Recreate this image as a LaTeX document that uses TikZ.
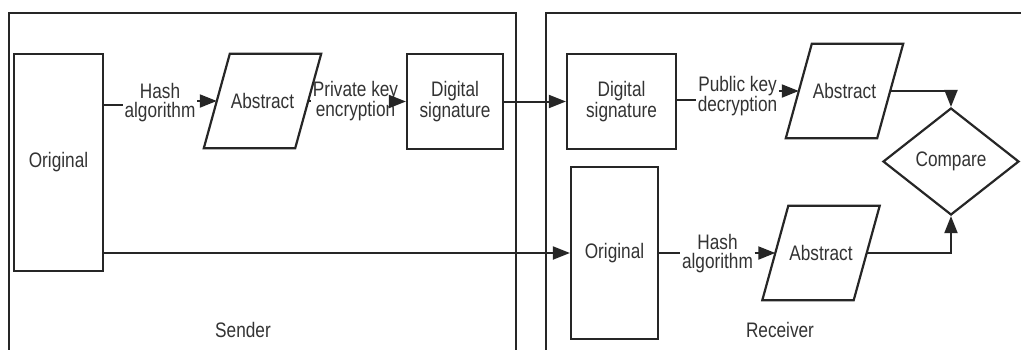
\documentclass[tikz,border=0pt]{standalone}
\usepackage{fontspec}
\setmainfont{Liberation Sans}[FakeStretch=0.82]
\usetikzlibrary{arrows.meta,shapes.geometric}
\definecolor{linec}{HTML}{262626}
\definecolor{textc}{HTML}{333333}
\tikzset{
  every node/.style={text=textc, font=\fontsize{21}{19}\selectfont, align=center},
  box/.style={draw=linec, line width=2.2pt, rectangle, inner sep=0pt},
  % parallelogram: the node is its mid-width rectangle, the slanted outline is drawn around it
  para/.style={rectangle, inner sep=0pt, minimum width=91pt, minimum height=94pt},
  paraline/.style={draw=linec, line width=2.2pt, line join=miter},
  decide/.style={draw=linec, line width=2.2pt, diamond, inner sep=0pt},
  lbl/.style={inner sep=1.5pt},
  link/.style={draw=linec, line width=2pt},
  arr/.style={link, -{Triangle[length=17pt,width=13pt]}},
  frame/.style={draw=linec, line width=2.4pt},
}
\begin{document}
\begin{tikzpicture}[x=1pt,y=-1pt]
\useasboundingbox (0,0) rectangle (1021,349);
\clip (0,0) rectangle (1021,349);
\fill[white] (0,0) rectangle (1021,349);

% sender and receiver frames (open towards the bottom and right)
\draw[frame] (9,370) |- (516,13) -- (516,370);
\draw[frame] (546,370) |- (1040,13);
\node (sender) at (243,330) {Sender};
\node (receiver) at (780,330) {Receiver};

% sender side
\node[box, minimum width=89pt, minimum height=217pt] (origS) at (58.5,162.5) {Original};
\node[para] (absS) at (262.5,101) {Abstract};
\node[box, minimum width=96pt, minimum height=95pt] (dsS) at (455,101.5) {Digital\\signature};

% receiver side
\node[box, minimum width=109pt, minimum height=95pt] (dsR) at (621.5,101.5) {Digital\\signature};
\node[para] (absRt) at (844.5,91) {Abstract};
\node[decide, minimum width=136pt, minimum height=107pt] (cmp) at (951,161.5) {Compare};
\node[box, minimum width=87pt, minimum height=172pt] (origR) at (614.5,253) {Original};
\node[para] (absRb) at (821,253) {Abstract};

% slanted outlines of the parallelograms
\foreach \p in {absS,absRt,absRb}
  \draw[paraline] ([xshift=13pt]\p.north west) -- ([xshift=13pt]\p.north east)
    -- ([xshift=-13pt]\p.south east) -- ([xshift=-13pt]\p.south west) -- cycle;

% edge labels
\node[lbl] (hashS) at (160,103) {Hash\\algorithm};
\node[lbl] (priv) at (355.5,101) {Private key\\encryption};
\node[lbl] (pub) at (737.5,96) {Public key\\decryption};
\node[lbl] (hashR) at (717.5,254) {Hash\\algorithm};

% connectors
\draw[link] (origS.east |- 0,105) -- (hashS.west |- 0,105);
\draw[arr] (hashS.east |- absS.west) -- (absS.west);
\draw[link] (absS.east) -- (priv.west |- absS.east);
\draw[arr] (priv.east |- dsS.west) -- (dsS.west);
\draw[arr] (dsS.east) -- (dsR.west);
\draw[link] (dsR.east |- 0,100) -- (pub.west |- 0,100);
\draw[arr] (pub.east |- absRt.west) -- (absRt.west);
\draw[arr] (absRt.east) -| (cmp.north);
\draw[arr] (origS.east |- origR.west) -- (origR.west);
\draw[link] (origR.east) -- (hashR.west |- origR.east);
\draw[arr] (hashR.east |- absRb.west) -- (absRb.west);
\draw[arr] (absRb.east) -| (cmp.south);
\end{tikzpicture}
\end{document}
